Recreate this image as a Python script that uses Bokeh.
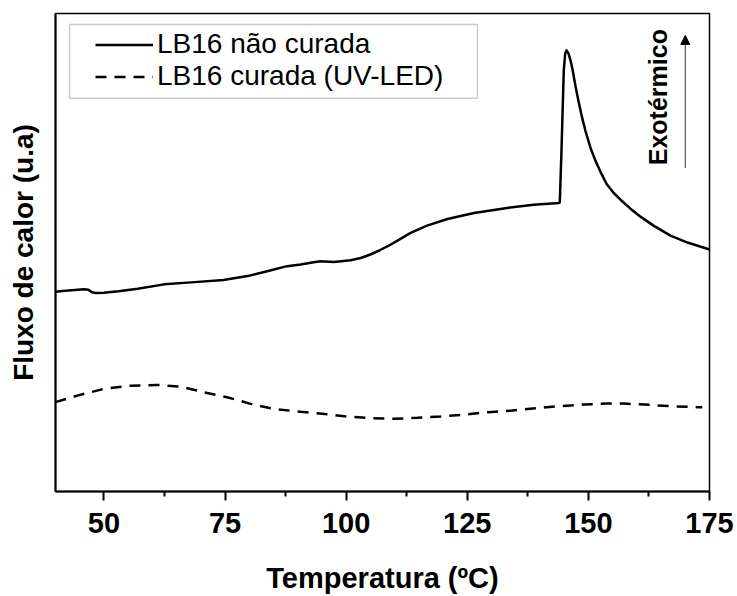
import math
from bokeh.plotting import figure
from bokeh.models import (FixedTicker, Legend, LegendItem, Label, Arrow, NormalHead,
                          BoxAnnotation)
from bokeh.embed import file_html
from bokeh.resources import INLINE

# ---- data ----
temp_uncured = [40.0, 42.0, 44.0, 45.8, 46.8, 47.6, 48.3, 50.0, 53.0, 57.0, 62.4, 68.0,
                74.7, 79.6, 83.5, 87.8, 90.6, 93.3, 94.7, 97.5, 100.9, 103.0, 105.0, 107.0,
                109.2, 111.3, 113.3, 116.7, 120.9, 126.4, 133.2, 138.7, 143.9, 144.10,
                144.45, 144.92, 145.21, 145.48, 145.89, 146.31, 146.72, 147.34, 147.96,
                148.58, 149.40, 150.44, 151.47, 152.50, 153.74, 155.18, 156.63, 158.69,
                160.75, 163.44, 166.95, 170.46, 175.0]
flux_uncured = [200.7, 201.5, 202.3, 203.0, 202.5, 200.0, 199.3, 199.7, 201.0, 203.5, 208.0, 210.0,
                212.3, 216.3, 221.0, 226.3, 228.0, 230.3, 231.3, 230.5, 232.3, 234.5, 238.0, 242.5,
                248.0, 254.0, 259.7, 267.0, 273.7, 279.7, 284.7, 288.0, 289.7, 290.3,
                343.0, 423.0, 439.7, 443.0, 440.0, 433.0, 424.0, 407.0, 392.0,
                378.0, 362.0, 345.0, 332.0, 321.0, 309.0, 300.0, 293.0, 284.0,
                276.0, 267.0, 257.0, 250.0, 243.0]

temp_cured = [40.0, 44.5, 49.9, 55.5, 61.0, 65.8, 70.6, 75.4, 80.3, 85.0, 90.6, 95.1,
              100.2, 105.0, 109.8, 114.7, 119.5, 124.6, 129.4, 134.3, 139.1, 144.2,
              149.1, 153.9, 157.3, 162.5, 167.0, 172.5, 173.5]
flux_cured = [89.7, 96.3, 103.0, 106.3, 107.0, 105.3, 99.7, 94.7, 88.0, 83.0, 80.0, 78.0,
              75.3, 73.7, 73.0, 74.0, 75.3, 77.3, 79.7, 81.3, 83.7, 85.7,
              87.3, 88.3, 88.3, 87.0, 85.7, 84.7, 84.5]

x_ticks = [50, 75, 100, 125, 150, 175]
x_minor = [62.5, 87.5, 112.5, 137.5, 162.5]
labels = ["LB16 não curada", "LB16 curada (UV-LED)"]

FONT = "Liberation Sans"

p = figure(width=737, height=596, x_range=(40, 175), y_range=(0, 480),
           output_backend="svg", toolbar_location=None,
           min_border_left=55, min_border_right=28, min_border_top=13,
           min_border_bottom=103)
p.xgrid.visible = False
p.ygrid.visible = False
p.background_fill_color = "white"
p.border_fill_color = "white"
p.outline_line_color = "black"
p.outline_line_width = 1.5

r1 = p.line(temp_uncured, flux_uncured, line_color="black", line_width=2.5,
            line_join="round")
r2 = p.line(temp_cured, flux_cured, line_color="black", line_width=2.5,
            line_dash="11 8")

# x axis
xa = p.xaxis[0]
xa.ticker = FixedTicker(ticks=x_ticks, minor_ticks=x_minor)
xa.axis_line_width = 2
xa.major_tick_line_width = 2
xa.minor_tick_line_width = 2
xa.major_tick_out = 9
xa.major_tick_in = 0
xa.minor_tick_out = 5
xa.minor_tick_in = 0
xa.major_label_text_font = FONT
xa.major_label_text_font_style = "bold"
xa.major_label_text_font_size = "29px"
xa.major_label_text_color = "black"
xa.major_label_standoff = 12
xa.axis_label = "Temperatura (ºC)"
xa.axis_label_text_font = FONT
xa.axis_label_text_font_style = "bold"
xa.axis_label_text_font_size = "29px"
xa.axis_label_text_color = "black"
xa.axis_label_standoff = 26

# y axis
ya = p.yaxis[0]
ya.ticker = FixedTicker(ticks=[])
ya.axis_line_width = 2
ya.major_tick_out = 0
ya.major_tick_in = 0
ya.minor_tick_out = 0
ya.minor_tick_in = 0
ya.major_label_text_font_size = "0px"
ya.axis_label = "Fluxo de calor (u.a)"
ya.axis_label_text_font = FONT
ya.axis_label_text_font_style = "bold"
ya.axis_label_text_font_size = "28px"
ya.axis_label_text_color = "black"
ya.axis_label_standoff = 17

# legend box (drawn separately) and borderless legend
legend_box = BoxAnnotation(left=42.9, right=127.1, bottom=395, top=469,
                           fill_alpha=0, line_color="#555555", line_width=1.5)
p.add_layout(legend_box)

legend = Legend(items=[LegendItem(label=labels[0], renderers=[r1]),
                       LegendItem(label=labels[1], renderers=[r2])],
                location=(40, 399), padding=0, margin=0, spacing=0,
                glyph_width=58, glyph_height=31, label_height=31,
                label_standoff=4, border_line_alpha=0, background_fill_alpha=0,
                label_text_font=FONT, label_text_font_size="28px",
                label_text_color="black")
p.add_layout(legend)

# exothermic arrow and label
arrow_x = 170.0
arrow_y0, arrow_y1 = 325, 458
p.add_layout(Arrow(end=NormalHead(size=9, fill_color="black", line_color="black"),
                   x_start=arrow_x, y_start=arrow_y0, x_end=arrow_x, y_end=arrow_y1,
                   line_color="#333333", line_width=1))
p.add_layout(Label(x=164.3, y=396, text="Exotérmico", angle=math.pi / 2,
                   text_align="center", text_baseline="middle",
                   text_font=FONT, text_font_style="bold", text_font_size="25px",
                   text_color="black"))

open("out.html", "w").write(file_html(p, INLINE))
